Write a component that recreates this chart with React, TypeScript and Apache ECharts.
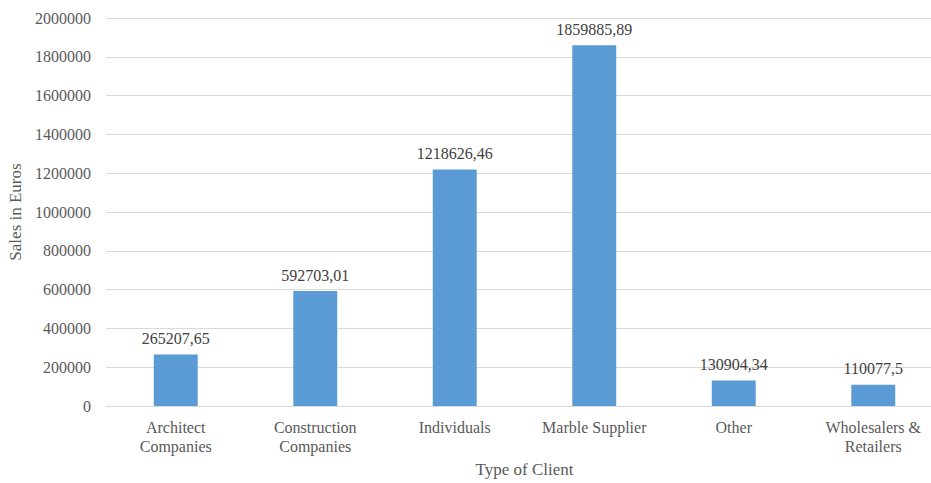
import React, { useEffect, useRef } from "react";
import * as echarts from "echarts";

const categories = [
  "Architect\nCompanies",
  "Construction\nCompanies",
  "Individuals",
  "Marble Supplier",
  "Other",
  "Wholesalers &\nRetailers",
];
const values = [265207.65, 592703.01, 1218626.46, 1859885.89, 130904.34, 110077.5];
const valueLabels = ["265207,65", "592703,01", "1218626,46", "1859885,89", "130904,34", "110077,5"];

const FONT = "Liberation Serif";
const TXT = "#595959";

export default function App() {
  const ref = useRef<HTMLDivElement>(null);
  useEffect(() => {
    if (!ref.current) return;
    const chart = echarts.init(ref.current, undefined, { renderer: "svg" });
    chart.setOption({
      animation: false,
      backgroundColor: "#ffffff",
      textStyle: { fontFamily: FONT },
      grid: { left: 106, right: -12, top: 18, bottom: 77, containLabel: false, outerBoundsMode: "none" },
      xAxis: {
        type: "category",
        data: categories,
        name: "Type of Client",
        nameLocation: "middle",
        nameGap: 54,
        nameTextStyle: { fontFamily: FONT, fontSize: 17, color: TXT },
        axisLine: { lineStyle: { color: "#d9d9d9" } },
        axisTick: { show: false },
        axisLabel: { fontFamily: FONT, fontSize: 16, color: TXT, margin: 12, lineHeight: 19, interval: 0 },
      },
      yAxis: {
        type: "value",
        min: 0,
        max: 2000000,
        interval: 200000,
        name: "Sales in Euros",
        nameLocation: "middle",
        nameGap: 80,
        nameTextStyle: { fontFamily: FONT, fontSize: 17, color: TXT },
        axisLine: { show: false },
        axisTick: { show: false },
        axisLabel: { fontFamily: FONT, fontSize: 16, color: TXT, margin: 15, formatter: (v: number) => String(v) },
        splitLine: { lineStyle: { color: "#d9d9d9" } },
      },
      series: [
        {
          type: "bar",
          data: values,
          barWidth: "31.5%",
          itemStyle: { color: "#5B9BD5" },
          label: {
            show: true,
            position: "top",
            distance: 8,
            fontFamily: FONT,
            fontSize: 16,
            color: "#404040",
            formatter: (p: any) => valueLabels[p.dataIndex],
          },
        },
      ],
    });
    return () => chart.dispose();
  }, []);
  return (
    <div
      ref={ref}
      style={{ position: "absolute", left: 0, top: 0, width: 931, height: 483 }}
    />
  );
}
